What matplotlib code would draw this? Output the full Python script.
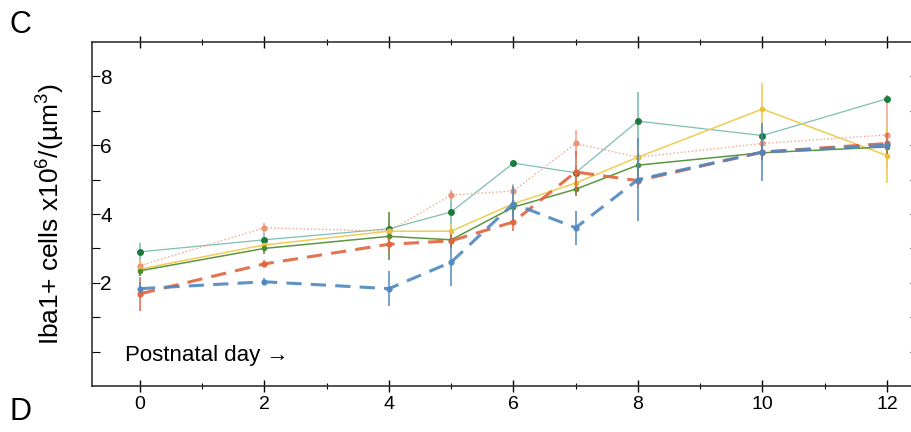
import numpy as np
import matplotlib
matplotlib.use("Agg")
import matplotlib.pyplot as plt
from matplotlib.ticker import MultipleLocator

plt.rcParams['font.family'] = ['Liberation Sans', 'DejaVu Sans']
plt.rcParams['mathtext.fontset'] = 'custom'
plt.rcParams['mathtext.rm'] = 'Liberation Sans'
plt.rcParams['mathtext.it'] = 'Liberation Sans'

days = [0, 2, 4, 5, 6, 7, 8, 10, 12]

# thick dashed series
blue = [1.83, 2.03, 1.83, 2.6, 4.3, 3.6, 5.0, 5.8, 6.0]
blue_err = [0.2, 0.1, 0.5, 0.7, 0.5, 0.5, 1.2, 0.85, 0.15]
red = [1.68, 2.55, 3.12, 3.22, 3.77, 5.22, 4.97, 5.8, 6.05]
red_err = [0.5, 0.1, 0.2, 0.2, 0.25, 0.6, 0.2, 0.2, 0.3]

# thin series
teal = [2.9, 3.25, 3.57, 4.06, 5.48, 5.2, 6.7, 6.28, 7.35]
teal_err = [0.25, 0.2, 0.2, 0.55, 0.1, 0.2, 0.85, 0.3, 0.1]
orange = [2.5, 3.6, 3.5, 4.55, 4.67, 6.05, 5.65, 6.05, 6.3]
orange_err = [0.2, 0.15, 0.2, 0.15, 0.2, 0.4, 0.3, 0.2, 0.95]
yellow = [2.4, 3.1, 3.5, 3.5, 4.3, 4.9, 5.65, 7.05, 5.7]
yellow_err = [0.2, 0.2, 0.2, 0.2, 0.2, 0.3, 0.3, 0.75, 0.8]
olive = [2.35, 3.0, 3.35, 3.25, 4.2, 4.72, 5.42, 5.78, 5.95]
olive_err = [0.15, 0.15, 0.7, 0.2, 0.2, 0.2, 0.3, 0.2, 0.2]

fig = plt.figure(figsize=(9.12, 4.32), dpi=100)
ax = fig.add_axes([92/912, 1-386/432, 826/912, 344/432])

def draw(y, e, col, ls, lw, mcol, ms, alpha=1.0, z=2):
    ax.errorbar(days, y, yerr=e, color=col, ls=ls, lw=lw, marker='o', ms=ms,
                mfc=mcol, mec=mcol, ecolor=col, elinewidth=1.2, capsize=0,
                alpha=alpha, zorder=z)

draw(teal, teal_err, '#7fbfb2', '-', 0.9, '#1e7a3c', 4, z=3)
draw(orange, orange_err, '#f2a58a', ':', 1.0, '#e8957a', 3.5, z=3)
draw(yellow, yellow_err, '#f0cc55', '-', 1.1, '#e8c040', 3, z=3)
draw(olive, olive_err, '#5c9640', '-', 1.1, '#4f8a35', 3, z=3)
draw(red, red_err, '#e2643c', (0, (5, 3)), 2.2, '#e2643c', 3.5, alpha=0.9, z=4)
draw(blue, blue_err, '#4f87bf', (0, (5, 3)), 2.2, '#4f87bf', 3.5, alpha=0.9, z=4)

ax.set_xlim(-0.77, 12.5)
ax.set_ylim(-1, 9)
ax.xaxis.set_major_locator(MultipleLocator(2))
ax.xaxis.set_minor_locator(MultipleLocator(1))
ax.set_yticks([0, 1, 2, 3, 4, 5, 6, 7, 8])
ax.set_yticklabels(['', '', '2', '', '4', '', '6', '', '8'])
ax.tick_params(axis='x', which='both', direction='inout', top=True, labelsize=14, pad=3)
ax.tick_params(axis='x', which='major', length=8, width=1)
ax.tick_params(axis='x', which='minor', length=5, width=0.8)
ax.tick_params(axis='y', which='both', direction='in', right=True, length=6,
               labelsize=15, pad=-6)
for lab in ax.get_yticklabels():
    lab.set_horizontalalignment('left')
for s in ax.spines.values():
    s.set_linewidth(1.2)
    s.set_color('#333333')

ax.set_ylabel('Iba1+ cells x10$^6$/(\u00b5m$^3$)', fontsize=19, labelpad=18)
ax.text(0.04, 0.09, 'Postnatal day \u2192', transform=ax.transAxes, fontsize=16,
        va='center', ha='left')

fig.text(10/912, 1-25/432, 'C', fontsize=22, va='center')
fig.text(10/912, 1-412/432, 'D', fontsize=22, va='center')

fig.savefig('out.png', dpi=100)
